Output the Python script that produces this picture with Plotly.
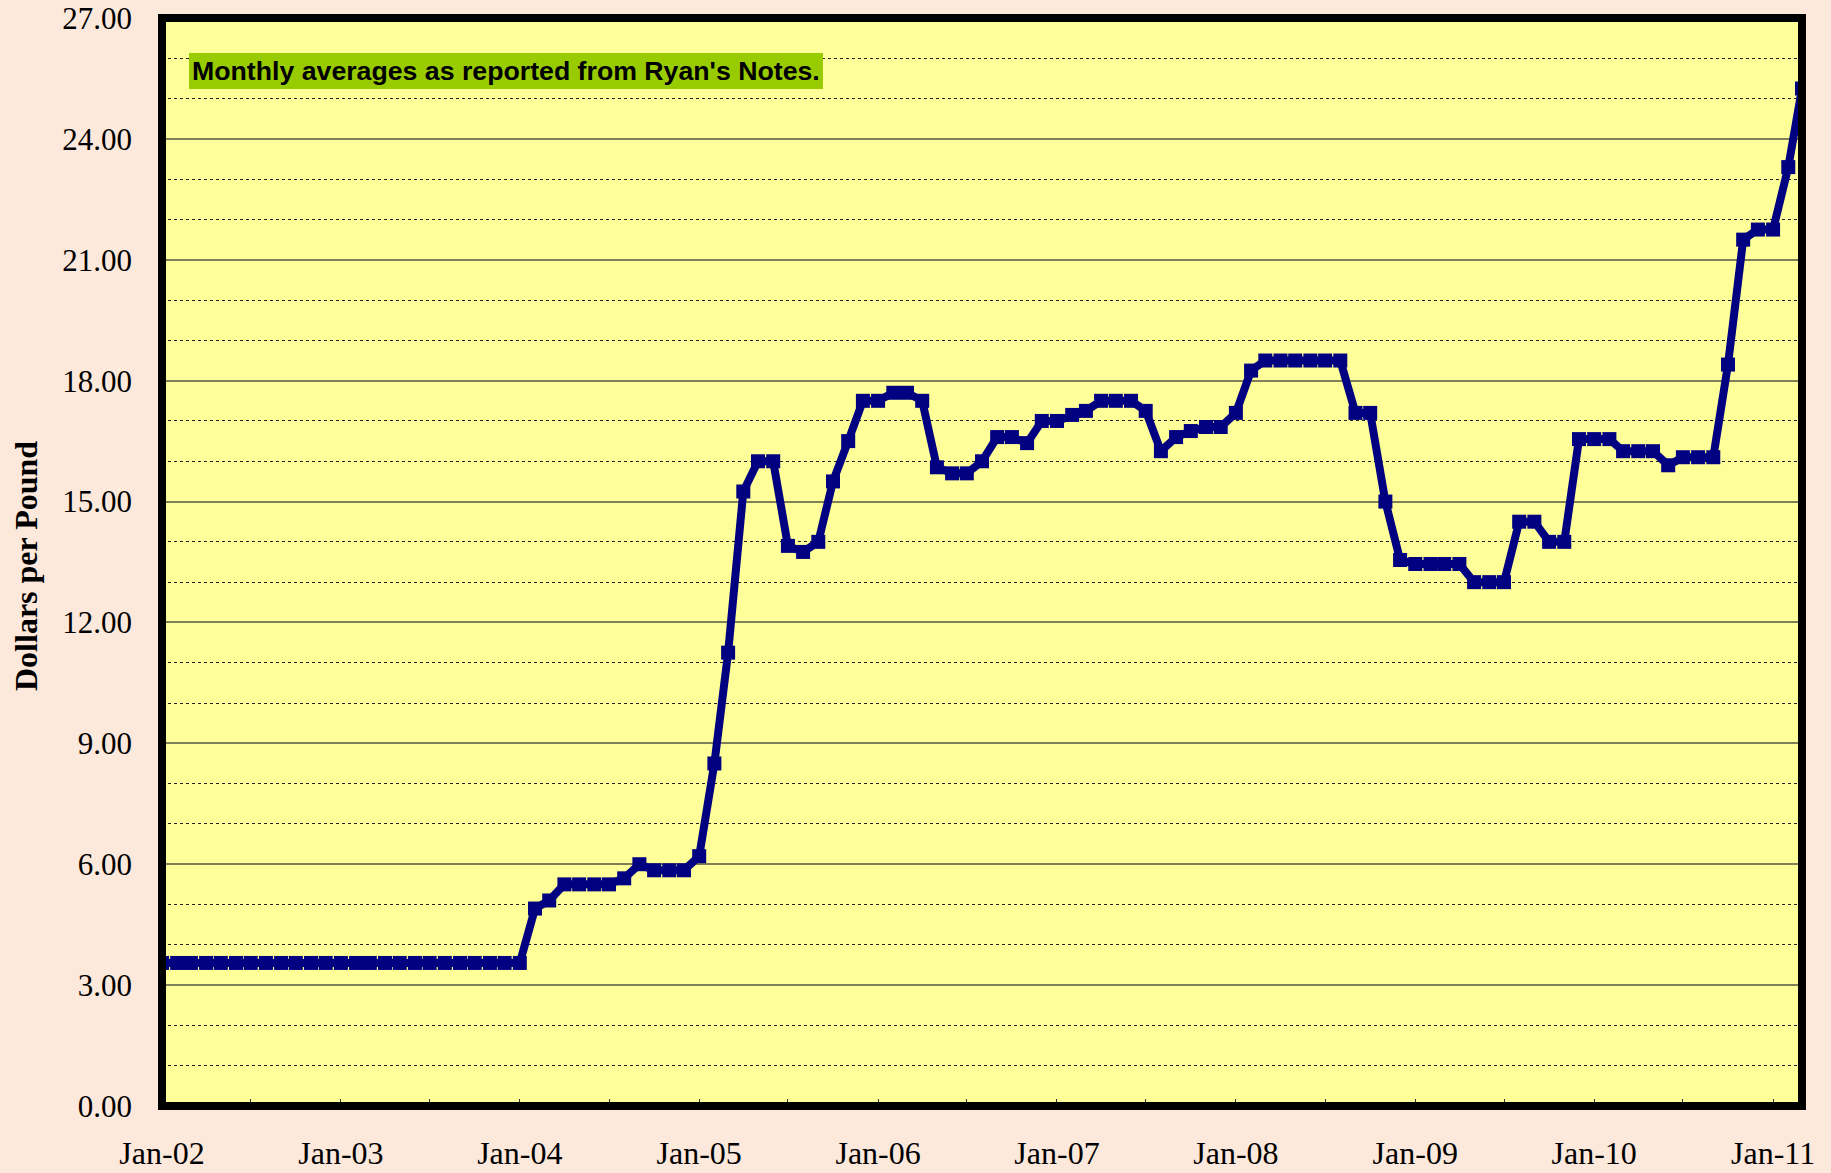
import pandas as pd
import plotly.graph_objects as go

# Monthly average prices, $/lb, Jan-2002 .. Mar-2011
start_month = "2002-01-01"
price_2002_2003 = [3.55] * 24
price_2004 = [3.55, 4.90, 5.10, 5.50, 5.50, 5.50, 5.50, 5.65, 6.00, 5.85, 5.85, 5.85]
price_2005 = [6.20, 8.50, 11.25, 15.25, 16.00, 16.00, 13.90, 13.75, 14.00, 15.50, 16.50, 17.50]
price_2006 = [17.50, 17.70, 17.70, 17.50, 15.85, 15.70, 15.70, 16.00, 16.60, 16.60, 16.45, 17.00]
price_2007 = [17.00, 17.15, 17.25, 17.50, 17.50, 17.50, 17.25, 16.25, 16.60, 16.75, 16.85, 16.85]
price_2008 = [17.20, 18.25, 18.50, 18.50, 18.50, 18.50, 18.50, 18.50, 17.20, 17.20, 15.00, 13.55]
price_2009 = [13.45, 13.45, 13.45, 13.45, 13.00, 13.00, 13.00, 14.50, 14.50, 14.00, 14.00, 16.55]
price_2010 = [16.55, 16.55, 16.25, 16.25, 16.25, 15.90, 16.10, 16.10, 16.10, 18.40, 21.50, 21.75]
price_2011 = [21.75, 23.30, 25.25]

prices = (price_2002_2003 + price_2004 + price_2005 + price_2006 + price_2007
          + price_2008 + price_2009 + price_2010 + price_2011)
months = pd.date_range(start_month, periods=len(prices), freq="MS")

annotation_text = "Monthly averages as reported from Ryan's Notes."
y_title = "Dollars per Pound"

PAPER = "#FDE9DB"
W, H = 1831, 1173
L, R, T, B = 162, 29, 18, 67
plot_w = W - L - R
plot_h = H - T - B

fig = go.Figure()
fig.add_trace(go.Scatter(
    x=months, y=prices, mode="lines+markers",
    line=dict(color="#000080", width=8),
    marker=dict(symbol="square", size=14, color="#000080"),
    showlegend=False, hoverinfo="x+y",
))

fig.update_layout(
    width=W, height=H,
    margin=dict(l=L, r=R, t=T, b=B, pad=0),
    paper_bgcolor=PAPER,
    plot_bgcolor="#FFFF99",
    font=dict(family="Liberation Serif, Times New Roman, serif", color="black", size=30),
)

fig.update_xaxes(
    type="date",
    range=[months[0], months[-1]],
    tick0=start_month, dtick="M12",
    tickformat="%b-%y",
    ticks="inside", ticklen=7, tickwidth=1, tickcolor="#333333",
    minor=dict(dtick="M6", ticks="inside", ticklen=7, tickwidth=1, tickcolor="#333333", showgrid=False),
    showgrid=False, zeroline=False, showline=False,
    tickfont=dict(size=32),
    ticklabelstandoff=25,
    automargin=False,
)

fig.update_yaxes(
    range=[0, 27], dtick=3, tick0=0,
    tickformat=".2f",
    showgrid=True, gridcolor="#7F7F5A", gridwidth=1.5,
    minor=dict(dtick=1, showgrid=True, gridcolor="#222222", gridwidth=1, griddash="dot"),
    ticks="", zeroline=False, showline=False,
    tickfont=dict(size=31),
    ticklabelstandoff=29,
    automargin=False,
)

# plot-area frame
fig.add_shape(type="rect", xref="paper", yref="paper", x0=0, y0=0, x1=1, y1=1,
              line=dict(color="black", width=8), layer="above")

# note box
fig.add_annotation(
    xref="paper", yref="paper",
    x=(189 - L) / plot_w, y=(H - B - 53) / plot_h,
    xanchor="left", yanchor="top",
    text="<b>" + annotation_text + "</b>",
    showarrow=False,
    font=dict(family="Liberation Sans, Arial, sans-serif", size=26.7, color="black"),
    bgcolor="#99CC00", borderpad=3, borderwidth=0,
)

# axis title
fig.add_annotation(
    xref="paper", yref="paper",
    x=(26 - L) / plot_w, y=(H - B - 566) / plot_h,
    xanchor="center", yanchor="middle",
    text="<b>" + y_title + "</b>",
    textangle=-90, showarrow=False,
    font=dict(family="Liberation Serif, Times New Roman, serif", size=32, color="black"),
)

fig.write_html(
    "out.html",
    config={"displayModeBar": False},
    post_script="document.body.style.margin='0';document.body.style.background='" + PAPER + "';",
)
